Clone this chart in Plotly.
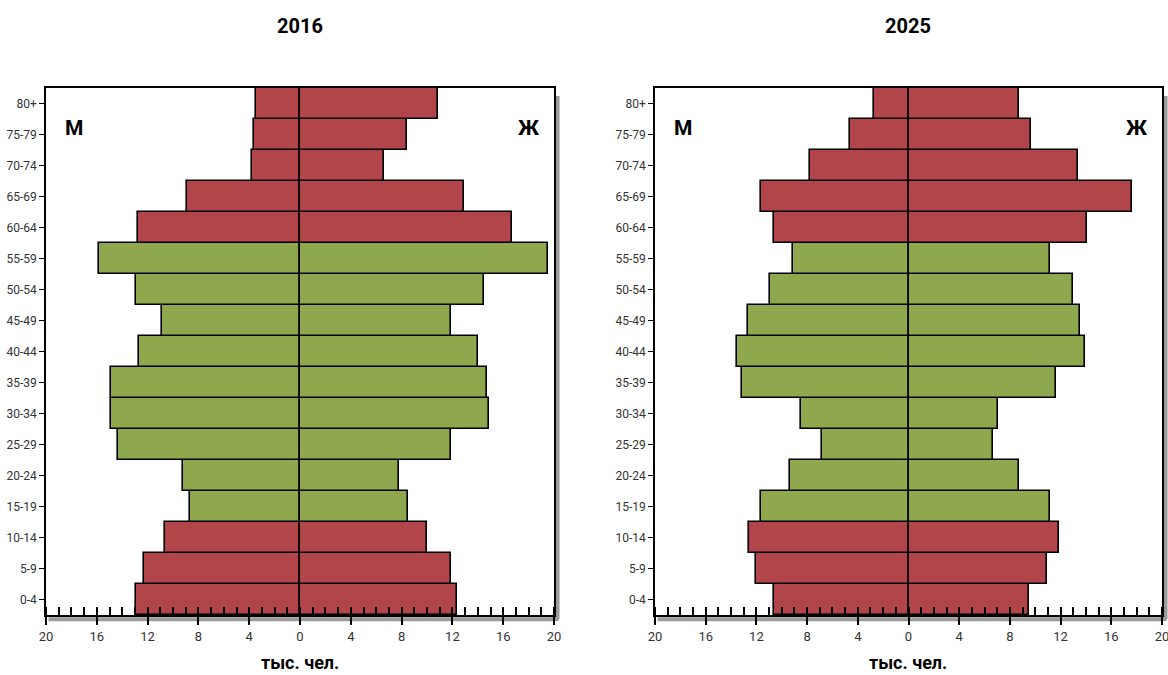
import plotly.graph_objects as go

ages = ['0-4', '5-9', '10-14', '15-19', '20-24', '25-29', '30-34', '35-39', '40-44',
        '45-49', '50-54', '55-59', '60-64', '65-69', '70-74', '75-79', '80+']
working_ages = ['15-19', '20-24', '25-29', '30-34', '35-39', '40-44', '45-49', '50-54', '55-59']

male_2016 = [12.9, 12.3, 10.6, 8.7, 9.2, 14.3, 14.9, 14.9, 12.7, 10.9, 12.9, 15.85, 12.75, 8.9, 3.75, 3.6, 3.45]
female_2016 = [12.4, 11.9, 10.0, 8.5, 7.8, 11.9, 14.85, 14.7, 14.0, 11.9, 14.5, 19.5, 16.7, 12.9, 6.65, 8.4, 10.85]
male_2025 = [10.6, 12.05, 12.6, 11.65, 9.35, 6.8, 8.5, 13.1, 13.5, 12.7, 10.9, 9.1, 10.65, 11.65, 7.8, 4.6, 2.75]
female_2025 = [9.5, 10.9, 11.9, 11.2, 8.75, 6.7, 7.05, 11.6, 13.9, 13.5, 12.95, 11.15, 14.1, 17.65, 13.4, 9.65, 8.75]

tick_vals = [-20, -16, -12, -8, -4, 0, 4, 8, 12, 16, 20]
tick_text = [str(abs(v)) for v in tick_vals]

years = ['2016', '2025']
RED = '#B2454A'
GREEN = '#8FA84D'
colors = [GREEN if a in working_ages else RED for a in ages]

FONT = 'Liberation Sans Narrow, Roboto, sans-serif'
W, H = 1168, 675

fig = go.Figure()

data = [(male_2016, female_2016), (male_2025, female_2025)]
for i, (m, f) in enumerate(data):
    xa = 'x' if i == 0 else 'x2'
    ya = 'y' if i == 0 else 'y2'
    fig.add_trace(go.Bar(y=ages, x=[-v for v in m], orientation='h', base=0,
                         marker=dict(color=colors, line=dict(color='black', width=1.6)),
                         xaxis=xa, yaxis=ya, showlegend=False, width=1))
    fig.add_trace(go.Bar(y=ages, x=f, orientation='h', base=0,
                         marker=dict(color=colors, line=dict(color='black', width=1.6)),
                         xaxis=xa, yaxis=ya, showlegend=False, width=1))

xdoms = [[46 / W, 554 / W], [655 / W, 1162 / W]]
ydom = [1 - 615 / H, 1 - 88 / H]

def xaxis_cfg(dom, anchor):
    return dict(domain=dom, anchor=anchor, range=[-20, 20], tickmode='array',
                tickvals=tick_vals, ticktext=tick_text, ticks='outside', ticklen=8,
                tickwidth=1.5, tickcolor='black', showline=True, linecolor='black',
                linewidth=2, mirror=True, showgrid=False, zeroline=True,
                zerolinecolor='black', zerolinewidth=2, fixedrange=True,
                automargin=False, ticklabeloverflow='allow',
                tickfont=dict(family=FONT, size=13, color='#333333'),
                minor=dict(tickmode='linear', tick0=0, dtick=1, ticks='inside',
                           ticklen=8, tickwidth=1.5, tickcolor='black'),
                layer='above traces')

def yaxis_cfg(anchor):
    return dict(domain=ydom, anchor=anchor, range=[-0.5, 16.5], showline=True,
                linecolor='black', linewidth=1.5, mirror=True, ticks='outside',
                ticklen=5, tickcolor='black', showgrid=False, fixedrange=True,
                automargin=False,
                tickfont=dict(family=FONT, size=12, color='#333333'),
                categoryorder='array', categoryarray=ages)

fig.update_layout(
    width=W, height=H,
    margin=dict(l=0, r=0, t=0, b=0, pad=0),
    paper_bgcolor='white', plot_bgcolor='white',
    barmode='relative', bargap=0,
    xaxis=xaxis_cfg(xdoms[0], 'y'),
    yaxis=yaxis_cfg('x'),
    xaxis2=xaxis_cfg(xdoms[1], 'y2'),
    yaxis2=yaxis_cfg('x2'),
    xaxis3=dict(overlaying='x', anchor='y', range=[-20, 20], tickmode='array',
                tickvals=tick_vals, ticks='inside', ticklen=8, tickwidth=1.5,
                tickcolor='black', showticklabels=False, showgrid=False,
                zeroline=False, showline=False, side='bottom', fixedrange=True,
                automargin=False),
    xaxis4=dict(overlaying='x2', anchor='y2', range=[-20, 20], tickmode='array',
                tickvals=tick_vals, ticks='inside', ticklen=8, tickwidth=1.5,
                tickcolor='black', showticklabels=False, showgrid=False,
                zeroline=False, showline=False, side='bottom', fixedrange=True,
                automargin=False),
)

shapes = []
for xr, yr in [('x', 'y'), ('x2', 'y2')]:
    shapes.append(dict(type='line', xref=f'{xr} domain', yref=f'{yr} domain',
                       x0=1.007, x1=1.007, y0=-0.008, y1=0.985,
                       line=dict(color='#9a9a9a', width=4), layer='below'))
    shapes.append(dict(type='line', xref=f'{xr} domain', yref=f'{yr} domain',
                       x0=0.005, x1=1.009, y0=-0.008, y1=-0.008,
                       line=dict(color='#9a9a9a', width=4), layer='below'))
fig.update_layout(shapes=shapes)

annotations = []
centers = [300 / W, 908 / W]
for i, yr in enumerate(years):
    annotations.append(dict(text=f'<b>{yr}</b>', x=centers[i], y=1 - 26 / H,
                            xref='paper', yref='paper', showarrow=False,
                            xanchor='center', yanchor='middle',
                            font=dict(family=FONT, size=20, color='black')))
    annotations.append(dict(text='<b>тыс. чел.</b>', x=centers[i], y=1 - 662 / H,
                            xref='paper', yref='paper', showarrow=False,
                            xanchor='center', yanchor='middle',
                            font=dict(family=FONT, size=18, color='black')))
for xr, yr in [('x', 'y'), ('x2', 'y2')]:
    annotations.append(dict(text='<b>М</b>', x=0.055, y=0.925, xref=f'{xr} domain',
                            yref=f'{yr} domain', showarrow=False,
                            xanchor='center', yanchor='middle',
                            font=dict(family=FONT, size=21, color='black')))
    annotations.append(dict(text='<b>Ж</b>', x=0.95, y=0.925, xref=f'{xr} domain',
                            yref=f'{yr} domain', showarrow=False,
                            xanchor='center', yanchor='middle',
                            font=dict(family=FONT, size=21, color='black')))
fig.update_layout(annotations=annotations)

fig.write_html('out.html', config={'displayModeBar': False},
               post_script="document.body.style.margin='0px';")
